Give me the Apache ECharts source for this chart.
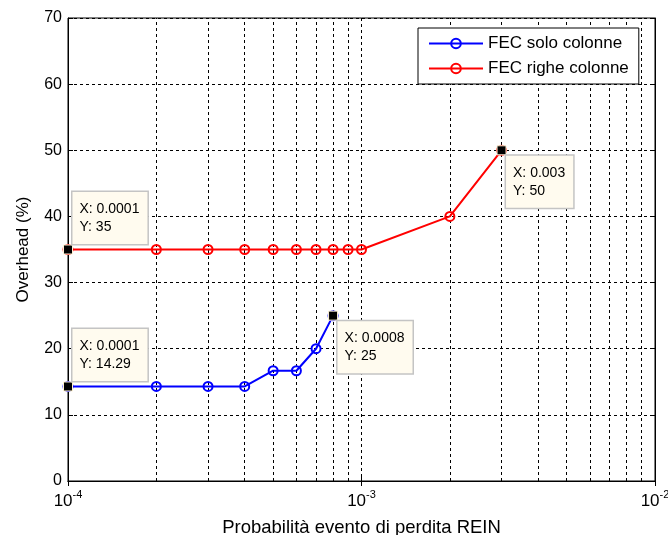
<!DOCTYPE html>
<html><head><meta charset="utf-8">
<script src="https://cdn.jsdelivr.net/npm/echarts@6/dist/echarts.min.js"></script>
<style>html,body{margin:0;padding:0;background:#fff}#c{width:668px;height:535px}</style>
</head><body><div id="c"></div>
<script>
const FONT = '"Liberation Sans", Arial, Helvetica, sans-serif';
const seriesNames = ['FEC solo colonne', 'FEC righe colonne'];
const xBlue = [1e-4, 2e-4, 3e-4, 4e-4, 5e-4, 6e-4, 7e-4, 8e-4];
const yBlue = [14.29, 14.29, 14.29, 14.29, 16.67, 16.67, 20, 25];
const xRed = [1e-4, 2e-4, 3e-4, 4e-4, 5e-4, 6e-4, 7e-4, 8e-4, 9e-4, 1e-3, 2e-3, 3e-3];
const yRed = [35, 35, 35, 35, 35, 35, 35, 35, 35, 35, 40, 50];
const minorGridX = [2e-4, 3e-4, 4e-4, 5e-4, 6e-4, 7e-4, 8e-4, 9e-4, 2e-3, 3e-3, 4e-3, 5e-3, 6e-3, 7e-3, 8e-3, 9e-3];
const yRange = [0, 70];
const xRange = [1e-4, 1e-2];
const xLabel = 'Probabilità evento di perdita REIN';
const yLabel = 'Overhead (%)';

function tipText(x, y) { return 'X: ' + String(x) + '\nY: ' + String(y); }
const tipLabel = {
  show: true, fontFamily: FONT, fontSize: 14, lineHeight: 18, color: '#000',
  backgroundColor: '#fffbef', borderColor: '#c4c4c4', borderWidth: 1.5,
  padding: [8, 8, 8, 7], align: 'left', verticalAlign: 'top'
};
function tip(x, y, above) {
  return {
    coord: [x, y],
    label: Object.assign({}, tipLabel, {
      formatter: tipText(x, y),
      position: above ? [9.5, -0.5] : [9.5, 10.5],
      verticalAlign: above ? 'bottom' : 'top'
    })
  };
}
const markerCommon = {
  symbol: 'rect', symbolSize: 9, silent: true, animation: false,
  itemStyle: { color: '#000', borderColor: '#fff3d6', borderWidth: 1 }
};
const gridDash = { color: '#000', type: [3, 3], width: 1 };

const chart = echarts.init(document.getElementById('c'));
chart.setOption({
  animation: false,
  backgroundColor: '#fff',
  grid: { left: 68, right: 13, top: 18, bottom: 54, outerBoundsMode: 'none', containLabel: false,
          show: true, borderColor: '#000', borderWidth: 1, backgroundColor: 'transparent' },
  legend: {
    left: 418, top: 28, orient: 'vertical',
    backgroundColor: '#fff', borderColor: '#000', borderWidth: 1,
    padding: [7, 10, 7, 10], itemGap: 8, itemWidth: 54, itemHeight: 12,
    textStyle: { fontFamily: FONT, fontSize: 17, color: '#000' },
    data: seriesNames
  },
  xAxis: [{
    type: 'log', logBase: 10, min: xRange[0], max: xRange[1],
    name: xLabel, nameLocation: 'middle', nameGap: 37,
    nameTextStyle: { fontFamily: FONT, fontSize: 18.5, color: '#000' },
    axisLine: { show: true, lineStyle: { color: '#000', width: 1 } },
    axisTick: { show: true, inside: true, length: 5, lineStyle: { color: '#000' } },
    axisLabel: {
      margin: 8,
      formatter: v => '{b|10}{e|' + Math.round(Math.log10(v)) + '}',
      rich: {
        b: { fontFamily: FONT, fontSize: 17, color: '#000', verticalAlign: 'bottom' },
        e: { fontFamily: FONT, fontSize: 11, color: '#000', verticalAlign: 'bottom', padding: [0, 0, 10, 0] }
      }
    },
    splitLine: { show: true, lineStyle: gridDash }
  }, {
    type: 'log', logBase: 10, min: xRange[0], max: xRange[1], position: 'top',
    axisLine: { show: true, lineStyle: { color: '#000' } },
    axisTick: { show: true, inside: true, length: 5, lineStyle: { color: '#000' } },
    axisLabel: { show: false }, splitLine: { show: false }
  }],
  yAxis: [{
    type: 'value', min: yRange[0], max: yRange[1], interval: 10,
    name: yLabel, nameLocation: 'middle', nameGap: 36,
    nameTextStyle: { fontFamily: FONT, fontSize: 17, color: '#000' },
    axisLine: { show: true, lineStyle: { color: '#000' } },
    axisTick: { show: true, inside: true, length: 5, lineStyle: { color: '#000' } },
    axisLabel: { fontFamily: FONT, fontSize: 16, color: '#000', margin: 6 },
    splitLine: { show: true, lineStyle: gridDash }
  }, {
    type: 'value', min: yRange[0], max: yRange[1], interval: 10, position: 'right',
    axisLine: { show: true, lineStyle: { color: '#000' } },
    axisTick: { show: true, inside: true, length: 5, lineStyle: { color: '#000' } },
    axisLabel: { show: false }, splitLine: { show: false }
  }],
  series: [{
    name: seriesNames[0], type: 'line', z: 3,
    data: xBlue.map((x, i) => [x, yBlue[i]]),
    symbol: 'circle', symbolSize: 9,
    lineStyle: { color: '#0000ff', width: 2 },
    itemStyle: { color: 'rgba(255,255,255,0)', borderColor: '#0000ff', borderWidth: 2 },
    emphasis: { disabled: true },
    markPoint: Object.assign({}, markerCommon, {
      data: [tip(xBlue[0], yBlue[0], true), tip(xBlue[xBlue.length - 1], yBlue[yBlue.length - 1], false)]
    })
  }, {
    name: seriesNames[1], type: 'line', z: 3,
    data: xRed.map((x, i) => [x, yRed[i]]),
    symbol: 'circle', symbolSize: 9,
    lineStyle: { color: '#ff0000', width: 2 },
    itemStyle: { color: 'rgba(255,255,255,0)', borderColor: '#ff0000', borderWidth: 2 },
    emphasis: { disabled: true },
    markLine: {
      silent: true, symbol: ['none', 'none'], animation: false, z: 1,
      label: { show: false },
      lineStyle: gridDash,
      emphasis: { disabled: true },
      data: minorGridX.map(v => [{ coord: [v, yRange[0]] }, { coord: [v, yRange[1]] }])
    },
    markPoint: Object.assign({}, markerCommon, {
      data: [tip(xRed[0], yRed[0], true), tip(xRed[xRed.length - 1], yRed[yRed.length - 1], false)]
    })
  }]
});
</script>
</body></html>
